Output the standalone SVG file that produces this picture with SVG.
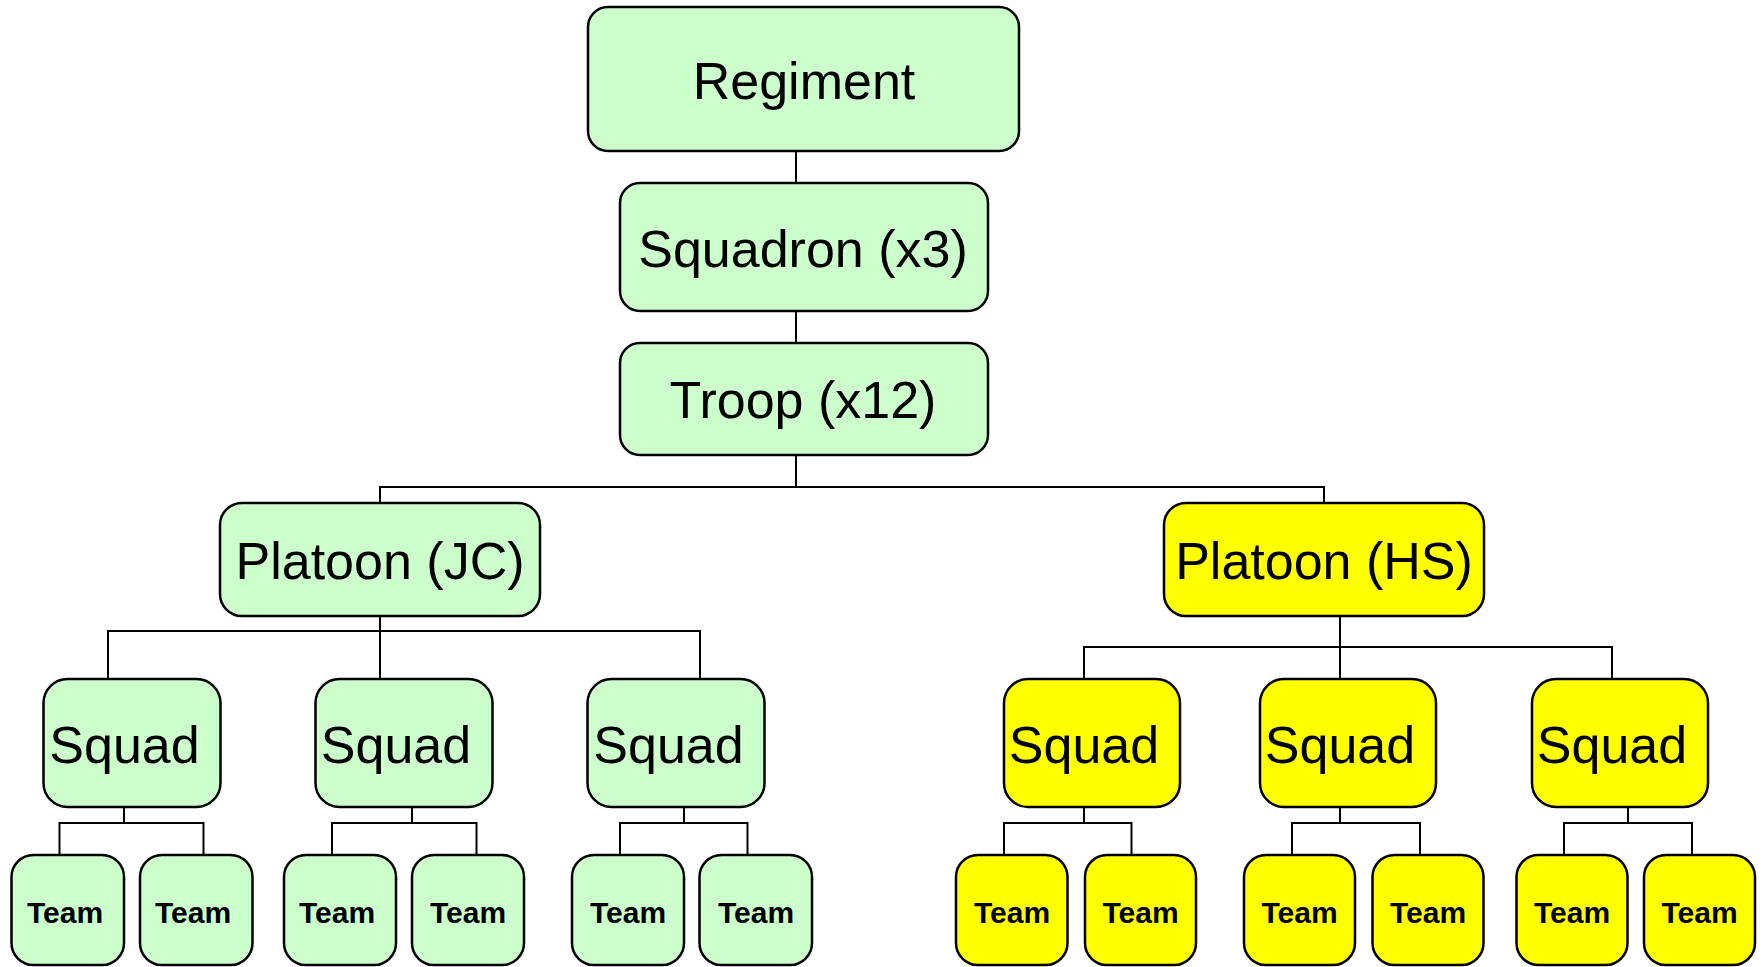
<svg xmlns="http://www.w3.org/2000/svg" width="1762" height="967" viewBox="0 0 1762 967">
<style>
.g{fill:#CCFFCC;stroke:#000;stroke-width:2.5}
.y{fill:#FFFF00;stroke:#000;stroke-width:2.5}
.t{font-family:"Liberation Sans",Arial,sans-serif;font-size:52px;fill:#000;text-anchor:middle}
.s{font-family:"Liberation Sans",Arial,sans-serif;font-size:30px;font-weight:bold;fill:#000;text-anchor:middle}
.c{fill:none;stroke:#000;stroke-width:2}
</style>
<rect width="1762" height="967" fill="#fff"/>
<g id="connectors" class="c">
<path d="M796 151V183M796 311V343M796 455V487M380 503V487H1324V503"/>
<path d="M380 616V631M108 679V631H700V679M380 631V679"/>
<path d="M1340 616V647M1084 679V647H1612V679M1340 647V679"/>
<path d="M124 807V823M59.5 855V823H203.5V855"/>
<path d="M412 807V823M332 855V823H476.5V855"/>
<path d="M684 807V823M620 855V823H747.5V855"/>
<path d="M1084 807V823M1004 855V823H1131.5V855"/>
<path d="M1340 807V823M1292 855V823H1420V855"/>
<path d="M1628 807V823M1564 855V823H1692V855"/>
</g>
<g id="regiment"><rect class="g" x="588" y="7" width="431" height="144" rx="20"/><text class="t" x="804" y="99">Regiment</text></g>
<g id="squadron"><rect class="g" x="620" y="183" width="368" height="128" rx="20"/><text class="t" x="803" y="267">Squadron (x3)</text></g>
<g id="troop"><rect class="g" x="620" y="343" width="368" height="112" rx="20"/><text class="t" x="803" y="418">Troop (x12)</text></g>
<g id="platoon-jc"><rect class="g" x="220" y="503" width="320" height="113" rx="22"/><text class="t" x="380" y="579">Platoon (JC)</text></g>
<g id="platoon-hs"><rect class="y" x="1164" y="503" width="320" height="113" rx="22"/><text class="t" x="1324" y="579">Platoon (HS)</text></g>
<g id="squad-jc1"><rect class="g" x="43.5" y="679" width="177" height="128" rx="24"/><text class="t" x="124.5" y="763">Squad</text></g>
<g id="squad-jc2"><rect class="g" x="315.5" y="679" width="177" height="128" rx="24"/><text class="t" x="396" y="763">Squad</text></g>
<g id="squad-jc3"><rect class="g" x="587.5" y="679" width="177" height="128" rx="24"/><text class="t" x="668.5" y="763">Squad</text></g>
<g id="squad-hs1"><rect class="y" x="1004" y="679" width="176" height="128" rx="24"/><text class="t" x="1084" y="763">Squad</text></g>
<g id="squad-hs2"><rect class="y" x="1260" y="679" width="176" height="128" rx="24"/><text class="t" x="1340" y="763">Squad</text></g>
<g id="squad-hs3"><rect class="y" x="1532" y="679" width="176" height="128" rx="24"/><text class="t" x="1612" y="763">Squad</text></g>
<g id="team-1"><rect class="g" x="11.5" y="855" width="112.5" height="110" rx="22"/><text class="s" x="65" y="923">Team</text></g>
<g id="team-2"><rect class="g" x="140" y="855" width="112.5" height="110" rx="22"/><text class="s" x="193" y="923">Team</text></g>
<g id="team-3"><rect class="g" x="284" y="855" width="112" height="110" rx="22"/><text class="s" x="337" y="923">Team</text></g>
<g id="team-4"><rect class="g" x="412" y="855" width="112" height="110" rx="22"/><text class="s" x="468" y="923">Team</text></g>
<g id="team-5"><rect class="g" x="572" y="855" width="112" height="110" rx="22"/><text class="s" x="628" y="923">Team</text></g>
<g id="team-6"><rect class="g" x="699.5" y="855" width="112.5" height="110" rx="22"/><text class="s" x="756" y="923">Team</text></g>
<g id="team-7"><rect class="y" x="956" y="855" width="111.5" height="110" rx="22"/><text class="s" x="1012" y="923">Team</text></g>
<g id="team-8"><rect class="y" x="1085" y="855" width="111" height="110" rx="22"/><text class="s" x="1140.5" y="923">Team</text></g>
<g id="team-9"><rect class="y" x="1244" y="855" width="111" height="110" rx="22"/><text class="s" x="1299.5" y="923">Team</text></g>
<g id="team-10"><rect class="y" x="1372.5" y="855" width="111" height="110" rx="22"/><text class="s" x="1428" y="923">Team</text></g>
<g id="team-11"><rect class="y" x="1516.5" y="855" width="111" height="110" rx="22"/><text class="s" x="1572" y="923">Team</text></g>
<g id="team-12"><rect class="y" x="1644" y="855" width="111" height="110" rx="22"/><text class="s" x="1699.5" y="923">Team</text></g>
</svg>
